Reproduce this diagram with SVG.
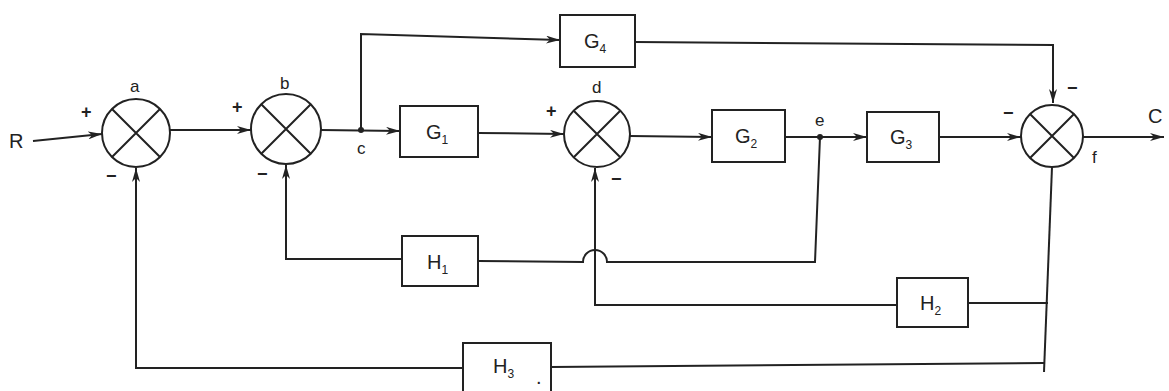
<svg xmlns="http://www.w3.org/2000/svg" width="1169" height="391" viewBox="0 0 1169 391">
<style>
.ln{fill:none;stroke:#222;stroke-width:2}
.bx{fill:#fff;stroke:#222;stroke-width:2}
.sj{fill:#fff;stroke:#222;stroke-width:2}
.t{font-family:"Liberation Sans",Arial,sans-serif;fill:#222}
.big{font-size:20px}
.sub{font-size:12px}
.lab{font-size:17px}
.sg{font-size:18px;font-weight:bold}
</style>
<defs>
<marker id="ar" markerUnits="userSpaceOnUse" markerWidth="14" markerHeight="8" refX="14" refY="4" orient="auto">
<path d="M0,0 L14,4 L0,8 L4,4 z" fill="#222"/>
</marker>
</defs>
<rect width="1169" height="391" fill="#fff"/>

<g id="connectors">
<polyline class="ln" points="33,141 102,134" marker-end="url(#ar)"/>
<line class="ln" x1="170" y1="130" x2="251" y2="130" marker-end="url(#ar)"/>
<line class="ln" x1="321" y1="130" x2="400" y2="131" marker-end="url(#ar)"/>
<polyline class="ln" points="361,130 361,34 560,40" marker-end="url(#ar)"/>
<line class="ln" x1="478" y1="133" x2="564" y2="134" marker-end="url(#ar)"/>
<line class="ln" x1="630" y1="136" x2="712" y2="137" marker-end="url(#ar)"/>
<line class="ln" x1="785" y1="137" x2="867" y2="137" marker-end="url(#ar)"/>
<line class="ln" x1="939" y1="137" x2="1021" y2="137" marker-end="url(#ar)"/>
<line class="ln" x1="1083" y1="137" x2="1164" y2="137" marker-end="url(#ar)"/>
<polyline class="ln" points="635,42 1053,45 1053,103" marker-end="url(#ar)"/>
<path class="ln" d="M820,137 L815,262 L607,262 A12,12 0 0 0 583,262 L478,261"/>
<polyline class="ln" points="402,259 286,259 286,165" marker-end="url(#ar)"/>
<polyline class="ln" points="897,305 595,305 595,168" marker-end="url(#ar)"/>
<polyline class="ln" points="1052,167 1044,372"/>
<line class="ln" x1="968" y1="303" x2="1048" y2="303"/>
<line class="ln" x1="551" y1="367" x2="1044" y2="363"/>
<polyline class="ln" points="463,368 136,368 136,168" marker-end="url(#ar)"/>
<circle cx="361" cy="130" r="3" fill="#222"/>
<circle cx="820" cy="137" r="3" fill="#222"/>
</g>

<g id="R"><text class="t big" x="9" y="148">R</text></g>
<g id="C"><text class="t big" x="1148" y="123">C</text></g>

<g id="a">
<circle class="sj" cx="136" cy="133" r="34"/>
<path class="ln" d="M112,109 L160,157 M160,109 L112,157"/>
<text class="t lab" x="130" y="92">a</text>
<text class="t sg" x="81" y="118">+</text>
<text class="t sg" x="106" y="182">−</text>
</g>
<g id="b">
<circle class="sj" cx="286" cy="129" r="35"/>
<path class="ln" d="M261,104 L311,154 M311,104 L261,154"/>
<text class="t lab" x="280" y="89">b</text>
<text class="t sg" x="232" y="113">+</text>
<text class="t sg" x="257" y="180">−</text>
</g>
<g id="c"><text class="t lab" x="357" y="154">c</text></g>
<g id="d">
<circle class="sj" cx="597" cy="134" r="33"/>
<path class="ln" d="M574,111 L620,157 M620,111 L574,157"/>
<text class="t lab" x="592" y="93">d</text>
<text class="t sg" x="546" y="117">+</text>
<text class="t sg" x="611" y="185">−</text>
</g>
<g id="e"><text class="t lab" x="815" y="126">e</text></g>
<g id="f">
<circle class="sj" cx="1052" cy="136" r="31"/>
<path class="ln" d="M1030,114 L1074,158 M1074,114 L1030,158"/>
<text class="t lab" x="1092" y="163">f</text>
<text class="t sg" x="1003" y="119">−</text>
<text class="t sg" x="1067" y="94">−</text>
</g>

<g id="G4">
<rect class="bx" x="560" y="15" width="75" height="52"/>
<text class="t big" x="584" y="48">G<tspan class="sub" dy="5">4</tspan></text>
</g>
<g id="G1">
<rect class="bx" x="400" y="106" width="78" height="51"/>
<text class="t big" x="426" y="139">G<tspan class="sub" dy="5">1</tspan></text>
</g>
<g id="G2">
<rect class="bx" x="712" y="110" width="73" height="52"/>
<text class="t big" x="735" y="143">G<tspan class="sub" dy="5">2</tspan></text>
</g>
<g id="G3">
<rect class="bx" x="867" y="112" width="72" height="50"/>
<text class="t big" x="890" y="144">G<tspan class="sub" dy="5">3</tspan></text>
</g>
<g id="H1">
<rect class="bx" x="402" y="236" width="76" height="50"/>
<text class="t big" x="427" y="269">H<tspan class="sub" dy="5">1</tspan></text>
</g>
<g id="H2">
<rect class="bx" x="897" y="278" width="71" height="49"/>
<text class="t big" x="920" y="310">H<tspan class="sub" dy="5">2</tspan></text>
</g>
<g id="H3">
<rect class="bx" x="463" y="343" width="88" height="50"/>
<text class="t big" x="493" y="373">H<tspan class="sub" dy="5">3</tspan></text>
<text class="t big" x="536" y="384">.</text>
</g>
</svg>
